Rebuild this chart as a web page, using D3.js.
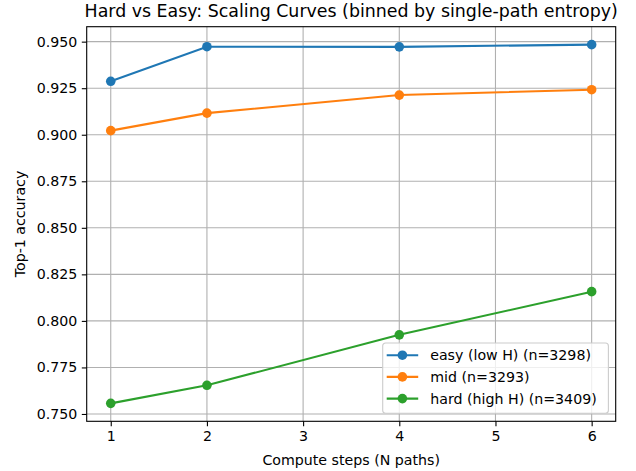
<!DOCTYPE html>
<html>
<head>
<meta charset="utf-8">
<script src="https://cdn.jsdelivr.net/npm/d3@7"></script>
<style>
  body { margin: 0; background: #fff; }
  svg { display: block; font-family: "DejaVu Sans", sans-serif; }
</style>
</head>
<body>
<div id="chart"></div>
<script>
const steps = [1, 2, 4, 6];
const easy = [0.9287, 0.9473, 0.9472, 0.9484];
const mid = [0.9022, 0.9116, 0.9213, 0.9242];
const hard = [0.7557, 0.7654, 0.7925, 0.8157];
const seriesNames = ['easy (low H) (n=3298)', 'mid (n=3293)', 'hard (high H) (n=3409)'];
const colors = ['#1f77b4', '#ff7f0e', '#2ca02c'];
const xTicks = [1, 2, 3, 4, 5, 6];
const yTicks = [0.750, 0.775, 0.800, 0.825, 0.850, 0.875, 0.900, 0.925, 0.950];

const width = 636, height = 471;
const margin = { left: 86.7, right: 636 - 615.7, top: 26.7, bottom: 471 - 421.3 };
const iw = width - margin.left - margin.right;
const ih = height - margin.top - margin.bottom;
const fs = '14.2px';
const markerR = 4.8;

const allVals = easy.concat(mid, hard);
const yMin = d3.min(allVals), yMax = d3.max(allVals);
const yPad = (yMax - yMin) * 0.05;

const x = d3.scaleLinear().domain([0.75, 6.25]).range([0, iw]);
const y = d3.scaleLinear().domain([yMin - yPad, yMax + yPad]).range([ih, 0]);

const svg = d3.select('#chart').append('svg')
    .attr('width', width)
    .attr('height', height);

const g = svg.append('g')
    .attr('transform', `translate(${margin.left},${margin.top})`);

// grid
g.append('g')
  .selectAll('line')
    .data(xTicks)
  .enter().append('line')
    .attr('x1', d => x(d)).attr('x2', d => x(d))
    .attr('y1', 0).attr('y2', ih)
    .attr('stroke', '#b0b0b0').attr('stroke-width', 1.1);

g.append('g')
  .selectAll('line')
    .data(yTicks)
  .enter().append('line')
    .attr('x1', 0).attr('x2', iw)
    .attr('y1', d => y(d)).attr('y2', d => y(d))
    .attr('stroke', '#b0b0b0').attr('stroke-width', 1.1);

// axes
const xAxis = g.append('g')
    .attr('transform', `translate(0,${ih})`)
    .call(d3.axisBottom(x).tickValues(xTicks).tickFormat(d3.format('d')).tickSize(4.9).tickPadding(4.5));

const yAxis = g.append('g')
    .call(d3.axisLeft(y).tickValues(yTicks).tickFormat(d3.format('.3f')).tickSize(4.9).tickPadding(4.5));

[xAxis, yAxis].forEach(a => {
  a.select('.domain').remove();
  a.selectAll('line').attr('stroke', '#000').attr('stroke-width', 1.1);
  a.selectAll('text').attr('font-size', fs).attr('fill', '#000')
    .attr('font-family', '"DejaVu Sans", sans-serif');
});

// spines
g.append('rect')
    .attr('width', iw).attr('height', ih)
    .attr('fill', 'none').attr('stroke', '#000').attr('stroke-width', 1.1);

// lines
const series = [easy, mid, hard];
const line = d3.line()
    .x((d, i) => x(steps[i]))
    .y(d => y(d));

series.forEach((vals, k) => {
  g.append('path')
      .datum(vals)
      .attr('fill', 'none')
      .attr('stroke', colors[k])
      .attr('stroke-width', 2.08)
      .attr('d', line);
  g.append('g').selectAll('circle')
      .data(vals)
    .enter().append('circle')
      .attr('cx', (d, i) => x(steps[i]))
      .attr('cy', d => y(d))
      .attr('r', markerR)
      .attr('fill', colors[k]);
});

// title & labels
svg.append('text')
    .attr('x', margin.left + iw / 2)
    .attr('y', 17)
    .attr('text-anchor', 'middle')
    .attr('font-size', '17.4px')
    .text('Hard vs Easy: Scaling Curves (binned by single-path entropy)');

svg.append('text')
    .attr('x', margin.left + iw / 2)
    .attr('y', 465)
    .attr('text-anchor', 'middle')
    .attr('font-size', fs)
    .text('Compute steps (N paths)');

svg.append('text')
    .attr('transform', `translate(25,${margin.top + ih / 2}) rotate(-90)`)
    .attr('text-anchor', 'middle')
    .attr('font-size', fs)
    .text('Top-1 accuracy');

// legend
const legend = svg.append('g')
    .attr('transform', 'translate(382.7,343)');

legend.append('rect')
    .attr('width', 225.7).attr('height', 70.3)
    .attr('rx', 3).attr('ry', 3)
    .attr('fill', 'rgba(255,255,255,0.8)')
    .attr('stroke', '#cccccc').attr('stroke-width', 1.1);

seriesNames.forEach((name, k) => {
  const row = legend.append('g')
      .attr('transform', `translate(0,${12.2 + k * 21.7})`);
  row.append('line')
      .attr('x1', 4).attr('x2', 35.5)
      .attr('stroke', colors[k]).attr('stroke-width', 2.08);
  row.append('circle')
      .attr('cx', 19.7).attr('r', markerR).attr('fill', colors[k]);
  row.append('text')
      .attr('x', 47.5).attr('y', 5)
      .attr('font-size', fs)
      .text(name);
});
</script>
</body>
</html>
